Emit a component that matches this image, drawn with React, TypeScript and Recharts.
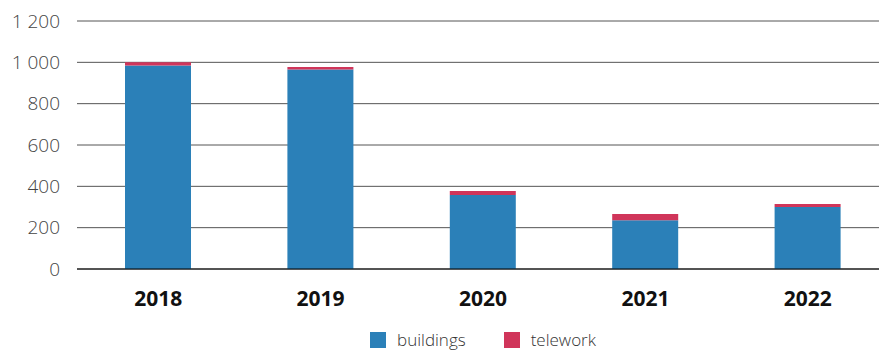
import { BarChart, Bar, XAxis, YAxis, CartesianGrid, Legend } from "recharts";

const years = ["2018", "2019", "2020", "2021", "2022"];
const buildings = [985, 965, 358, 236, 300];
const telework = [15, 12, 19, 30, 14];
const yTicks = [0, 200, 400, 600, 800, 1000, 1200];

const data = years.map((year, i) => ({
  year,
  buildings: buildings[i],
  telework: telework[i],
}));

const BLUE = "#2b80b8";
const RED = "#d0355a";

const fmt = (v: number) => String(v).replace(/\B(?=(\d{3})+(?!\d))/g, " ");

const LegendBox = () => {
  const items = [
    { name: "buildings", color: BLUE },
    { name: "telework", color: RED },
  ];
  return (
    <div
      style={{
        display: "flex",
        justifyContent: "center",
        alignItems: "center",
        gap: 38,
        paddingTop: 11,
        lineHeight: "20px",
        fontFamily: "'Open Sans', sans-serif",
        fontWeight: 300,
        fontSize: 17,
        color: "#333",
      }}
    >
      {items.map((it) => (
        <div key={it.name} style={{ display: "flex", alignItems: "center" }}>
          <span
            style={{
              width: 16,
              height: 16,
              background: it.color,
              display: "inline-block",
              marginRight: 11,
            }}
          />
          <span>{it.name}</span>
        </div>
      ))}
    </div>
  );
};

const App = () => {
  return (
    <div
      style={{
        position: "absolute",
        left: 0,
        top: 0,
        width: 879,
        height: 351,
        overflow: "hidden",
        background: "#fff",
      }}
    >
      <BarChart
        width={889}
        height={351}
        data={data}
        margin={{ top: 21, right: 0, left: 0, bottom: 0 }}
      >
        <CartesianGrid vertical={false} stroke="#555" strokeWidth={1} />
        <XAxis
          dataKey="year"
          height={50}
          tickLine={false}
          tickSize={0}
          tickMargin={22}
          axisLine={{ stroke: "#000", strokeWidth: 1 }}
          tick={{
            fill: "#111",
            fontFamily: "'Open Sans', sans-serif",
            fontWeight: 700,
            fontSize: 21,
          }}
        />
        <YAxis
          width={77}
          domain={[0, 1200]}
          ticks={yTicks}
          tickFormatter={fmt}
          axisLine={false}
          tickLine={false}
          tickSize={0}
          tickMargin={17}
          tick={{
            fill: "#444",
            fontFamily: "'Open Sans', sans-serif",
            fontWeight: 300,
            fontSize: 19,
          }}
        />
        <Legend
          verticalAlign="bottom"
          content={() => <LegendBox />}
          wrapperStyle={{ left: 77, width: 812, height: 32 }}
        />
        <Bar
          dataKey="buildings"
          stackId="a"
          fill={BLUE}
          barSize={66}
          isAnimationActive={false}
        />
        <Bar
          dataKey="telework"
          stackId="a"
          fill={RED}
          barSize={66}
          isAnimationActive={false}
        />
      </BarChart>
    </div>
  );
};

export default App;
